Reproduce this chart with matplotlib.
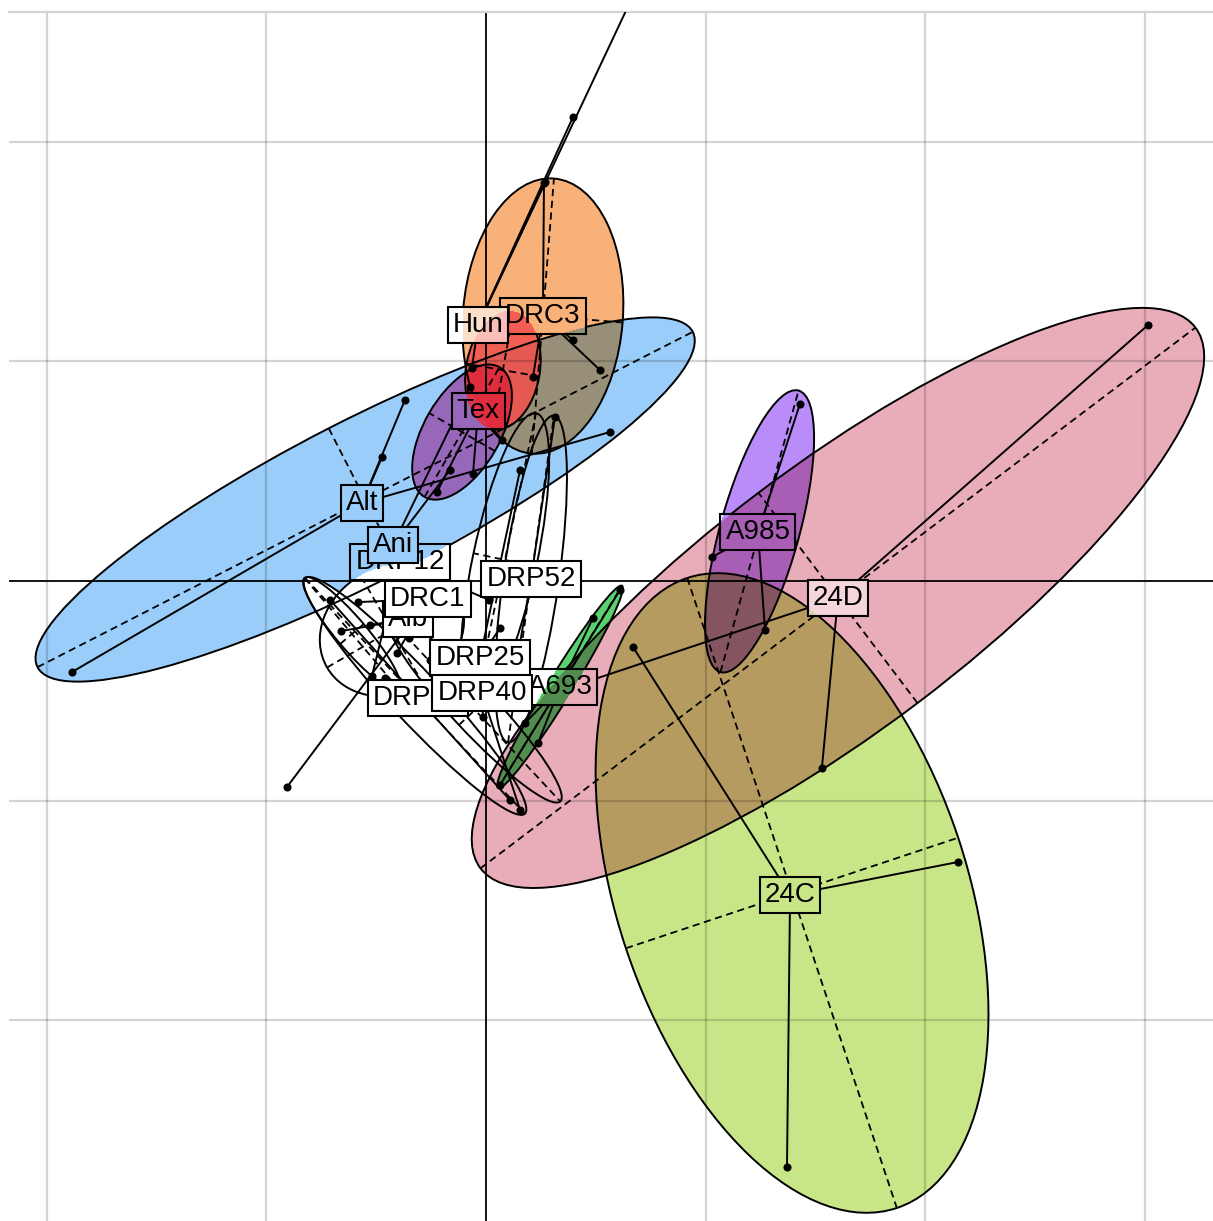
import numpy as np
import matplotlib.pyplot as plt
from matplotlib.patches import Ellipse

# groups in the order their fills are laid down
groups = ["Alt", "Ani", "Alb", "DRC1", "DRP12", "DRP25", "DRP40", "DRP31", "DRP52",
          "24C", "24D", "A693", "A985", "DRC3", "Hun", "Tex"]
fill_rgb = [(155, 205, 250), None, (255, 255, 255), (255, 255, 255), (255, 255, 255),
            None, (255, 255, 255), (255, 255, 255), None,
            (200, 230, 135), (233, 172, 185), (90, 210, 110), (185, 140, 250),
            (250, 178, 122), (242, 80, 76), (250, 130, 190)]
blend = ["mul", "mul", "over", "over", "over", "over", "over", "over", "over",
         "mul", "mul", "mul", "mul", "mul", "over", "mul"]
fill_alpha = [1, 1, 1, 1, 1, 1, 1, 1, 1, 1, 1, 1, 1, 1, 0.85, 1]
outlined = [True, False, True, True, False, True, True, True, True,
            True, True, True, True, True, True, True]

# ellipse centre, semi axes and tilt (degrees)
ell_cx = [-0.550, -0.423, -0.428, -0.610, -0.141, 0.086, -0.050, -0.323, 0.205,
          1.393, 1.602, 0.337, 1.245, 0.259, 0.077, -0.109]
ell_cy = [0.371, 0.164, -0.223, -0.241, -0.018, 0.096, -0.587, -0.523, 0.009,
          -1.420, -0.077, -0.482, 0.226, 1.206, 0.960, 0.678]
ell_a = [1.675, 0.35, 0.341, 0.334, 0.797, 0.683, 0.569, 0.733, 0.751,
         1.511, 2.04, 0.54, 0.665, 0.628, 0.273, 0.341]
ell_b = [0.364, 0.07, 0.287, 0.07, 0.173, 0.146, 0.100, 0.114, 0.127,
         0.797, 0.60, 0.055, 0.18, 0.364, 0.168, 0.173]
ell_ang = [27.1, 64, 30, -49.7, 32, 78, -47, -47, 82,
           -71.6, 37.1, 58.5, 74.5, 85.4, 80, 60]

# label positions (hub of the star lines)
lab_x = [-0.564, -0.423, -0.355, -0.264, -0.391, -0.027, -0.018, -0.310, 0.205,
         1.384, 1.602, 0.337, 1.238, 0.259, -0.036, -0.036]
lab_y = [0.355, 0.164, -0.173, -0.082, 0.086, -0.350, -0.510, -0.533, 0.009,
         -1.429, -0.077, -0.482, 0.223, 1.206, 1.165, 0.774]

# individual scores per group
pts_x = [[-1.884, -0.369, -0.473, 0.564],
         [-0.073, -0.164],
         [-0.660, -0.528, -0.350],
         [-0.583, -0.906, -0.405],
         [-0.519, 0.014],
         [0.064, 0.155],
         [-0.014, 0.155, -0.255],
         [-0.460, 0.109, -0.710],
         [0.314, 0.109],
         [0.669, 2.148, 1.370],
         [3.013, 1.529, 0.223],
         [0.610, 0.487, 0.178, 0.237, 0.064],
         [1.429, 1.029, 1.270],
         [0.264, 0.396, 0.519, 0.214],
         [0.396, 0.746, 0.269, -0.064],
         [-0.059, -0.223, 0.073]]
pts_y = [[-0.414, 0.824, 0.564, 0.678],
         [0.883, 0.505],
         [-0.228, -0.200, -0.259],
         [-0.096, -0.938, -0.328],
         [-0.432, -0.086],
         [-0.214, 0.505],
         [-0.619, -1.042, -0.360],
         [-0.440, -0.997, -0.086],
         [0.746, -0.550],
         [-0.300, -1.279, -2.667],
         [1.165, -0.851, -0.537],
         [-0.041, -0.168, -0.646, -0.737, -0.929],
         [0.806, 0.109, -0.223],
         [1.812, 1.097, 0.960, 0.929],
         [2.112, 2.827, 1.816, 0.970],
         [0.487, 0.405, 0.642]]

# order in which labels are stacked, and white wash on their boxes
label_order = ["24C", "24D", "A693", "A985", "Alt", "DRP12", "Ani", "Alb", "DRC1",
               "DRP52", "DRP25", "DRP31", "DRP40", "DRC3", "Hun", "Tex"]
box_wash = {"24D": 0.5, "Hun": 0.6}

xlim = (-2.171, 3.309)
ylim = (-2.913, 2.590)
grid_x = [-2, -1, 1, 2, 3]
grid_y = [-2, -1, 1, 2]

plt.rcParams['font.family'] = ['Liberation Sans', 'DejaVu Sans']

fig = plt.figure(figsize=(12.13, 12.21), dpi=100)
ax = fig.add_axes([9 / 1213, 0, 1 - 9 / 1213, 1209 / 1221])

# composite the ellipse fills on a raster (colours multiply where they overlap)
nx, ny = 1204, 1209
gx = np.linspace(xlim[0], xlim[1], nx)
gy = np.linspace(ylim[1], ylim[0], ny)
GX, GY = np.meshgrid(gx, gy)
layer = np.ones((ny, nx, 3))
for i, g in enumerate(groups):
    if fill_rgb[i] is None:
        continue
    t = np.deg2rad(ell_ang[i])
    dx = GX - ell_cx[i]
    dy = GY - ell_cy[i]
    u = dx * np.cos(t) + dy * np.sin(t)
    v = -dx * np.sin(t) + dy * np.cos(t)
    inside = (u / ell_a[i]) ** 2 + (v / ell_b[i]) ** 2 <= 1
    c = np.array(fill_rgb[i]) / 255
    if blend[i] == "mul":
        layer[inside] *= c
    else:
        layer[inside] = fill_alpha[i] * c + (1 - fill_alpha[i]) * layer[inside]

extent = (xlim[0], xlim[1], ylim[0], ylim[1])
ax.imshow(layer, extent=extent, origin='upper', interpolation='bilinear',
          aspect='auto', zorder=0)

for v in grid_x:
    ax.axvline(v, color='black', alpha=0.17, lw=1.6, zorder=1)
for v in grid_y:
    ax.axhline(v, color='black', alpha=0.17, lw=1.6, zorder=1)
ax.axvline(0, color='black', lw=1.3, zorder=2)
ax.axhline(0, color='black', lw=1.3, zorder=2)

dash = (0, (4, 2.5))
for i, g in enumerate(groups):
    if outlined[i]:
        ax.add_patch(Ellipse((ell_cx[i], ell_cy[i]), 2 * ell_a[i], 2 * ell_b[i],
                             angle=ell_ang[i], fill=False, ec='black', lw=1.4,
                             zorder=3))
        t = np.deg2rad(ell_ang[i])
        ca, sa = np.cos(t), np.sin(t)
        ax.plot([ell_cx[i] - ell_a[i] * ca, ell_cx[i] + ell_a[i] * ca],
                [ell_cy[i] - ell_a[i] * sa, ell_cy[i] + ell_a[i] * sa],
                color='black', lw=1.3, ls=dash, zorder=3)
        ax.plot([ell_cx[i] + ell_b[i] * sa, ell_cx[i] - ell_b[i] * sa],
                [ell_cy[i] - ell_b[i] * ca, ell_cy[i] + ell_b[i] * ca],
                color='black', lw=1.3, ls=dash, zorder=3)
    for px, py in zip(pts_x[i], pts_y[i]):
        ax.plot([lab_x[i], px], [lab_y[i], py], color='black', lw=1.4, zorder=3)
    ax.scatter(pts_x[i], pts_y[i], s=34, color='black', zorder=4, linewidths=0)

texts = []
for k, g in enumerate(label_order):
    i = groups.index(g)
    wash = box_wash.get(g, 0.0)
    t = ax.text(lab_x[i], lab_y[i], g, ha='center', va='center', fontsize=20,
                zorder=11 + 2 * k,
                bbox=dict(boxstyle='square,pad=0.18', facecolor=(1, 1, 1, wash),
                          edgecolor='black', linewidth=1.5))
    texts.append(t)

ax.set_xlim(xlim)
ax.set_ylim(ylim)
ax.set_xticks([])
ax.set_yticks([])
for side in ['left', 'right', 'bottom']:
    ax.spines[side].set_visible(False)
ax.spines['top'].set_color((0.83, 0.83, 0.83))
ax.spines['top'].set_linewidth(1.6)

# label boxes show the fills underneath but hide the lines
fig.canvas.draw()
for k, t in enumerate(texts):
    im = ax.imshow(layer, extent=extent, origin='upper', interpolation='bilinear',
                   aspect='auto', zorder=10 + 2 * k)
    im.set_clip_path(t.get_bbox_patch())
ax.set_xlim(xlim)
ax.set_ylim(ylim)

fig.savefig('out.png', dpi=100)
